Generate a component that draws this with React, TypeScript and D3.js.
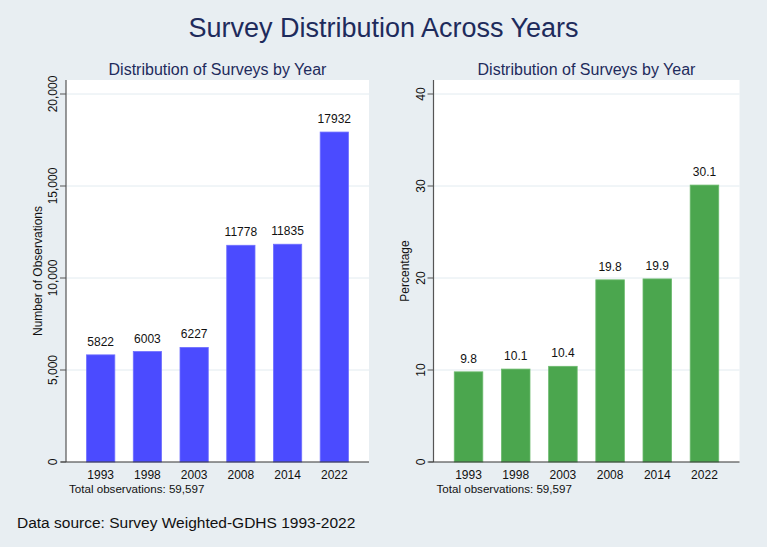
import * as d3 from "d3";

const years = ["1993", "1998", "2003", "2008", "2014", "2022"];
const counts = [5822, 6003, 6227, 11778, 11835, 17932];
const percents = [9.8, 10.1, 10.4, 19.8, 19.9, 30.1];
const countTicks = [0, 5000, 10000, 15000, 20000];
const pctTicks = [0, 10, 20, 30, 40];

const W = 767;
const H = 547;
const FONT = "'Liberation Sans', Arial, Helvetica, sans-serif";
const BG = "#e8eef2";
const NAVY = "#1e2b5c";

type PanelProps = {
  x0: number;
  x1: number;
  values: number[];
  labels: string[];
  ticks: number[];
  yMax: number;
  tickFormat: (v: number) => string;
  yTitle: string;
  color: string;
  edge: string;
};

function Panel({ x0, x1, values, labels, ticks, yMax, tickFormat, yTitle, color, edge }: PanelProps) {
  const top = 80;
  const bottom = 462;
  const y = d3.scaleLinear().domain([0, yMax]).range([bottom, 94]);
  const x = d3
    .scaleBand<string>()
    .domain(years)
    .range([x0, x1])
    .paddingInner(0.395)
    .paddingOuter(0.44);
  const mid = (x0 + x1) / 2;

  return (
    <g>
      <rect x={x0} y={top} width={x1 - x0} height={bottom - top} fill="#ffffff" />
      {ticks
        .filter((t) => t > 0)
        .map((t) => (
          <line key={t} x1={x0} x2={x1} y1={y(t)} y2={y(t)} stroke="#e2ebf0" strokeWidth={1} />
        ))}
      {values.map((v, i) => (
        <g key={years[i]}>
          <rect
            x={x(years[i])!}
            y={y(v)}
            width={x.bandwidth()}
            height={bottom - y(v)}
            fill={color}
            stroke={edge}
            strokeWidth={0.8}
          />
          <text
            x={x(years[i])! + x.bandwidth() / 2}
            y={y(v) - 9}
            textAnchor="middle"
            fontSize={12}
            fill="#111"
          >
            {labels[i]}
          </text>
          <text
            x={x(years[i])! + x.bandwidth() / 2}
            y={479}
            textAnchor="middle"
            fontSize={12}
            fill="#111"
          >
            {years[i]}
          </text>
        </g>
      ))}
      {/* axes */}
      <line x1={x0} x2={x0} y1={top} y2={bottom} stroke="#555" strokeWidth={1.2} />
      <line x1={x0 - 5} x2={x1} y1={bottom} y2={bottom} stroke="#333" strokeWidth={1.2} />
      {ticks.map((t) => (
        <g key={t}>
          <line x1={x0 - 6} x2={x0} y1={y(t)} y2={y(t)} stroke="#555" strokeWidth={1} />
          <text
            transform={`translate(${x0 - 9},${y(t)}) rotate(-90)`}
            textAnchor="middle"
            fontSize={12}
            fill="#111"
          >
            {tickFormat(t)}
          </text>
        </g>
      ))}
      <text
        transform={`translate(${x0 - 24.5},${(top + bottom) / 2}) rotate(-90)`}
        textAnchor="middle"
        fontSize={12}
        fill="#111"
      >
        {yTitle}
      </text>
      <text x={mid} y={75} textAnchor="middle" fontSize={16} fill={NAVY}>
        Distribution of Surveys by Year
      </text>
      <text x={x0 + 3} y={493} fontSize={11.6} fill="#111">
        Total observations: 59,597
      </text>
    </g>
  );
}

export default function App() {
  const fmtComma = d3.format(",");
  return (
    <div style={{ position: "fixed", left: 0, top: 0 }}>
      <svg width={W} height={H} style={{ display: "block", fontFamily: FONT }}>
        <rect x={0} y={0} width={W} height={H} fill={BG} />
        <text x={W / 2} y={37} textAnchor="middle" fontSize={27} fill={NAVY}>
          Survey Distribution Across Years
        </text>
        <Panel
          x0={66}
          x1={369}
          values={counts}
          labels={counts.map((c) => String(c))}
          ticks={countTicks}
          yMax={20000}
          tickFormat={(v) => fmtComma(v)}
          yTitle="Number of Observations"
          color="#4b4bff"
          edge="#6f6fff"
        />
        <Panel
          x0={433.5}
          x1={739.5}
          values={percents}
          labels={percents.map((p) => p.toFixed(1))}
          ticks={pctTicks}
          yMax={40}
          tickFormat={(v) => String(v)}
          yTitle="Percentage"
          color="#4ba64e"
          edge="#6cba6e"
        />
        <text x={17} y={528} fontSize={15.5} fill="#111">
          Data source: Survey Weighted-GDHS 1993-2022
        </text>
      </svg>
    </div>
  );
}
